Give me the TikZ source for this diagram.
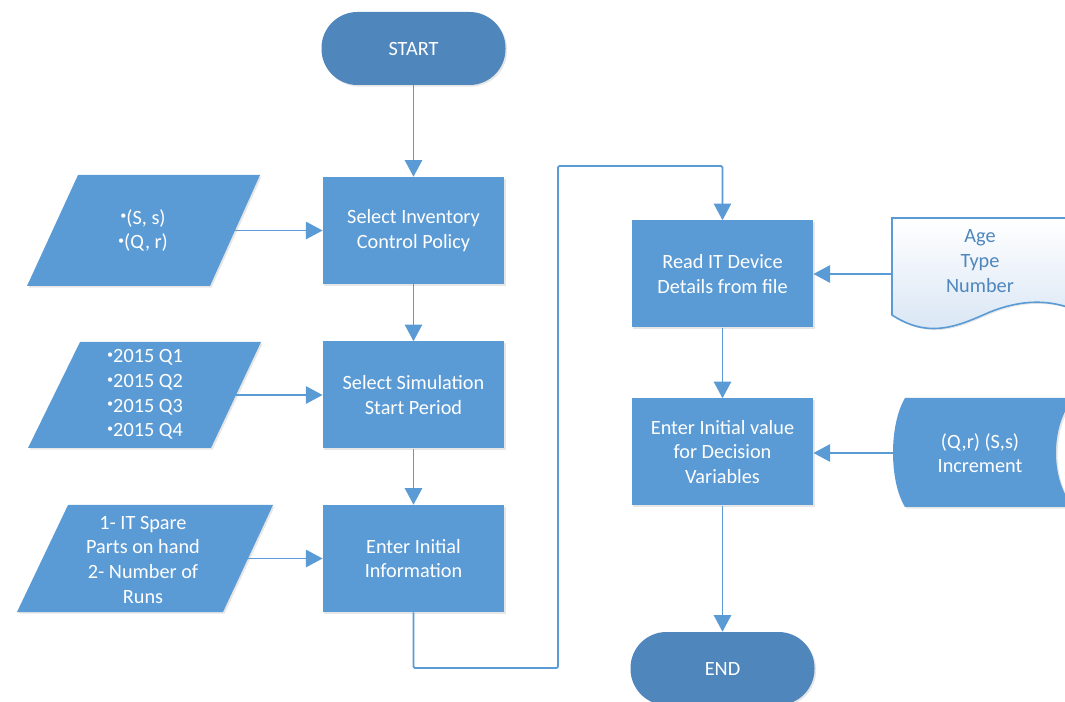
\documentclass[tikz,border=0pt]{standalone}
\usepackage{fontspec}
\usepackage{graphicx}
\setmainfont{Carlito}
\usetikzlibrary{arrows.meta,shadows}

\definecolor{procblue}{RGB}{91,155,213}
\definecolor{termblue}{RGB}{79,135,189}
\definecolor{doctop}{RGB}{255,255,255}
\definecolor{docbottom}{RGB}{214,228,244}

% small raised bullet used in the input lists
\newcommand\smallbul{\raisebox{0.45ex}{\scalebox{0.6}{•}}}

\begin{document}
\begin{tikzpicture}[x=0.75pt,y=-0.75pt,
  font=\fontsize{15.2}{18.5}\selectfont,
  softshadow/.style={drop shadow={opacity=0.16,shadow xshift=1.2pt,shadow yshift=-1.2pt,fill=black!60}},
  procbox/.style={rectangle, fill=procblue, text=white, align=center, inner sep=0pt,
    minimum width=136pt, minimum height=80.25pt, softshadow},
  termbox/.style={rectangle, rounded corners=27pt, fill=termblue, text=white, inner sep=0pt,
    minimum width=138pt, minimum height=54.75pt, softshadow},
  shapefill/.style={fill=procblue, softshadow},
  intext/.style={text=white, align=center, inner sep=0pt},
  flow/.style={draw=procblue, line width=1.4pt},
  arr/.style={flow, -{Triangle[length=12.5pt,width=13pt]}}
]
\useasboundingbox (0,0) rectangle (1065,702);
\clip (0,0) rectangle (1065,702);

% ---- left column: terminal and process steps
\node[termbox] (start) at (413.5,48.5) {START};
\node[procbox] (b1) at (413.5,230.5) {Select Inventory\\Control Policy};
\node[procbox] (b2) at (413.5,395) {Select Simulation\\Start Period};
\node[procbox] (b3) at (413.5,558.5) {Enter Initial\\Information};

% ---- right column
\node[procbox] (b4) at (722.5,274) {Read IT Device\\Details from file};
\node[procbox] (b5) at (722.5,452) {Enter Initial value\\for Decision\\Variables};
\node[termbox] (end) at (722.5,668.5) {END};

% ---- input parallelograms
\fill[shapefill] (78,175) -- (260,175) -- (210,286) -- (27,286) -- cycle;
\node[intext] (p1) at (143,230.5) {\smallbul(S, s)\\\smallbul(Q, r)};
\coordinate (p1out) at (235,230.5);

\fill[shapefill] (80,342) -- (261,342) -- (211,448) -- (28,448) -- cycle;
\node[intext, font=\fontsize{15.2}{18.5}\selectfont] (p2) at (145,394.5)
  {\smallbul 2015 Q1\\\smallbul 2015 Q2\\\smallbul 2015 Q3\\\smallbul 2015 Q4};
\coordinate (p2out) at (236,395);

\fill[shapefill] (68,505) -- (273,505) -- (223,612) -- (17,612) -- cycle;
\node[intext] (p3) at (143,559.5) {1- IT Spare\\Parts on hand\\2- Number of\\Runs};
\coordinate (p3out) at (248,558.5);

% ---- document shape
\shade[top color=doctop, bottom color=docbottom, draw=procblue, line width=1.2pt, softshadow]
  (892,218) -- (1080,218) -- (1080,312)
  .. controls (1050,298) and (1020,300) .. (990,312)
  .. controls (960,325) and (930,340) .. (892,315) -- cycle;
\node[align=center, text=termblue, inner sep=0pt] (doc) at (980,261) {Age\\Type\\Number};
\coordinate (docin) at (892,274);

% ---- stored data shape
\fill[shapefill] (905,398) -- (1074,398)
  .. controls (1050,425) and (1050,481) .. (1074,507)
  -- (905,507) .. controls (889,481) and (889,425) .. (905,398) -- cycle;
\node[intext] (sd) at (980,453) {(Q,r) (S,s)\\Increment};
\coordinate (sdin) at (893,453);

% ---- connectors
\draw[arr] (start) -- (b1);
\draw[arr] (b1) -- (b2);
\draw[arr] (b2) -- (b3);
\draw[arr] (p1out) -- (b1.west);
\draw[arr] (p2out) -- (b2.west);
\draw[arr] (p3out) -- (b3.west);

\coordinate (loopA) at (558,668);
\coordinate (loopB) at (558,166);
\draw[arr, rounded corners=1pt] (b3.south) |- (loopA) -- (loopB) -| (b4.north);

\draw[arr] (docin) -- (b4.east);
\draw[arr] (b4) -- (b5);
\draw[arr] (sdin) -- (sdin -| b5.east);
\draw[arr] (b5) -- (end);
\end{tikzpicture}
\end{document}
